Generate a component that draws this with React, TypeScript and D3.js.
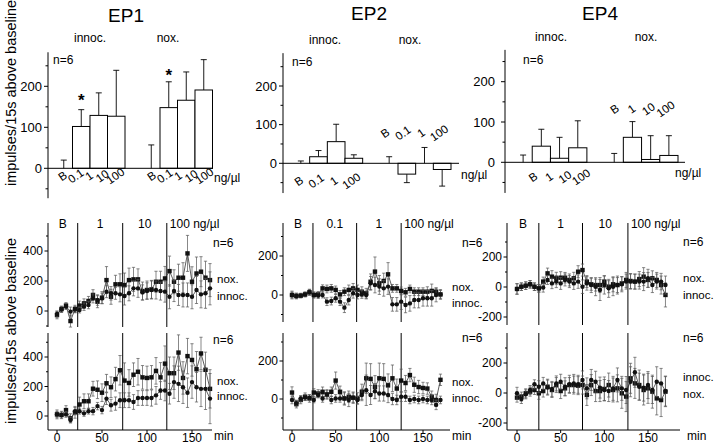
import React from "react";
import * as d3 from "d3";

const FONT = "'Liberation Sans', Arial, Helvetica, sans-serif";

// ---------------- bar chart data ----------------
const ep1InnocNames = ["B", "0.1", "1", "10", "100"];
const ep1NoxNames = ["B", "0.1", "1", "10", "100"];
const ep1InnocMean = [0, 102, 129, 127];
const ep1InnocErr = [20, 41, 55, 112];
const ep1NoxMean = [0, 148, 166, 191];
const ep1NoxErr = [57, 63, 69, 74];

const ep2InnocNames = ["B", "0.1", "1", "100"];
const ep2NoxNames = ["B", "0.1", "1", "100"];
const ep2InnocMean = [0, 17, 56, 13];
const ep2InnocErr = [6, 16, 45, 9];
const ep2NoxMean = [0, -28, 0, -16];
const ep2NoxErr = [17, 22, 41, 43];

const ep4InnocNames = ["B", "1", "10", "100"];
const ep4NoxNames = ["B", "1", "10", "100"];
const ep4InnocMean = [0, 40, 10, 36];
const ep4InnocErr = [18, 42, 52, 67];
const ep4NoxMean = [0, 62, 7, 17];
const ep4NoxErr = [22, 39, 59, 49];

const barYTicks = [0, 100, 200];
const barYMinor = [-50, 50, 150, 250];
const slotKeys = ["iB", "i1", "i2", "i3", "gap", "nB", "n1", "n2", "n3"];

// ---------------- time course data ----------------
const times = [0, 5, 10, 15, 20, 25, 30, 35, 40, 45, 50, 55, 60, 65, 70, 75, 80, 85, 90, 95, 100, 105, 110, 115, 120, 125, 130, 135, 140, 145, 150, 155, 160, 165, 170];
const xTicks = [0, 50, 100, 150];

const ep1Doses = [23, 73, 122];
const ep1DoseLabels = ["B", "1", "10", "100 ng/µl"];
const ep2Doses = [24, 74, 125];
const ep2DoseLabels = ["B", "0.1", "1", "100 ng/µl"];
const ep4Doses = [25, 75, 127];
const ep4DoseLabels = ["B", "1", "10", "100 ng/µl"];

const nox1U = [-27, 13, 36, -67, 13, 36, 51, 67, 107, 62, 89, 206, 95, 178, 178, 173, 206, 211, 211, 133, 140, 144, 195, 195, 217, 266, 195, 222, 222, 384, 195, 250, 262, 222, 206];
const innoc1U = [-20, 10, 30, -4, 10, 7, 29, 40, 84, 73, 84, 129, 118, 118, 111, 100, 118, 151, 151, 124, 133, 140, 140, 133, 129, 95, 133, 107, 107, 107, 95, 140, 111, 118, 151];
const nox1UErr = [25, 20, 20, 40, 25, 30, 30, 30, 35, 40, 40, 90, 50, 60, 70, 80, 80, 80, 70, 60, 60, 60, 70, 70, 80, 100, 80, 90, 100, 120, 100, 110, 100, 110, 110];
const innoc1UErr = [20, 20, 20, 30, 20, 20, 25, 25, 30, 35, 35, 40, 45, 40, 50, 60, 50, 50, 60, 50, 55, 60, 60, 60, 70, 80, 70, 70, 80, 80, 80, 90, 90, 100, 110];

const nox1L = [11, 7, 40, -15, 25, 78, 100, 100, 185, 178, 158, 222, 195, 250, 310, 240, 224, 280, 300, 262, 258, 262, 306, 262, 355, 290, 290, 430, 258, 406, 380, 317, 424, 313, 184];
const innoc1L = [11, 7, 11, -27, 33, 33, 18, 33, 33, 67, 40, 118, 73, 84, 107, 107, 107, 95, 122, 122, 122, 122, 140, 173, 173, 151, 230, 218, 195, 158, 230, 195, 184, 184, 118];
const nox1LErr = [30, 25, 30, 30, 40, 50, 50, 50, 50, 60, 60, 60, 70, 80, 100, 120, 90, 80, 90, 80, 80, 80, 90, 100, 120, 110, 110, 120, 110, 120, 110, 120, 110, 120, 130];
const innoc1LErr = [20, 20, 20, 20, 25, 20, 20, 20, 25, 25, 25, 40, 40, 45, 50, 50, 50, 50, 50, 50, 50, 55, 60, 60, 70, 70, 110, 120, 110, 100, 110, 100, 120, 140, 170];

const nox2U = [0, -5, -3, 3, 14, 0, 3, 34, 31, 34, 26, 3, 17, 26, 34, 26, 17, 9, 68, 120, 60, 72, 106, 34, 34, 21, 14, 31, 17, 17, 17, 17, 21, 17, 3];
const innoc2U = [0, -5, -3, 3, 14, 0, -3, 0, -34, -31, -17, -34, -65, -26, 9, 0, 3, 0, 60, 51, 43, 34, 43, -48, -48, -34, -51, -43, -26, -26, -17, -17, -17, 0, 3];
const nox2UErr = [15, 12, 10, 12, 15, 15, 15, 18, 20, 20, 20, 20, 20, 25, 25, 25, 25, 25, 40, 75, 40, 40, 60, 20, 20, 20, 20, 20, 20, 20, 20, 25, 35, 20, 20];
const innoc2UErr = [20, 15, 12, 12, 15, 15, 15, 15, 20, 20, 20, 20, 25, 25, 25, 20, 20, 20, 35, 40, 40, 40, 40, 35, 35, 40, 40, 40, 40, 40, 40, 40, 40, 35, 25];

const nox2L = [34, -27, -5, 12, 3, 34, 29, 38, 24, 38, 97, 38, 3, 12, 7, 3, 38, 109, 106, 63, 109, 106, 72, 109, 55, 97, 84, 126, 75, 63, 58, 55, 12, -5, 101];
const innoc2L = [-5, -22, 3, 7, 7, -5, 21, 3, 24, -5, 3, 3, 3, -5, 7, -5, 21, 46, 21, 41, 29, 29, 21, 0, -5, 12, 12, -5, 0, -5, 0, -5, -5, -31, -5];
const nox2LErr = [30, 20, 20, 20, 20, 20, 20, 25, 25, 25, 45, 30, 30, 30, 30, 30, 40, 80, 80, 60, 80, 80, 60, 70, 50, 60, 40, 35, 40, 35, 30, 30, 30, 30, 30];
const innoc2LErr = [20, 15, 15, 15, 15, 15, 15, 20, 20, 20, 20, 20, 35, 35, 25, 20, 30, 80, 50, 40, 40, 40, 40, 30, 25, 25, 25, 20, 20, 20, 20, 20, 25, 25, 20];

const nox4U = [-13, 2, 9, 18, 2, -9, 36, 91, 69, 58, 62, 62, 47, 58, 102, 113, 36, 18, 13, 13, 36, 2, 18, 13, 24, 47, 40, 36, 53, 69, 47, 58, 47, 13, -53];
const innoc4U = [-13, 2, 9, 18, 2, -9, -4, 47, 24, 36, 24, 47, 36, 24, 36, 2, 24, 13, 2, -20, 13, -9, 2, 13, 18, 36, 36, 36, 36, 36, 58, 13, 36, 36, 13];
const nox4UErr = [35, 25, 25, 25, 25, 25, 30, 35, 40, 40, 40, 35, 40, 40, 40, 40, 40, 40, 40, 50, 40, 40, 50, 50, 45, 50, 50, 50, 50, 60, 50, 50, 50, 60, 80];
const innoc4UErr = [35, 25, 25, 25, 25, 25, 30, 30, 35, 40, 40, 40, 40, 40, 45, 45, 45, 50, 60, 70, 60, 60, 60, 60, 50, 50, 50, 50, 50, 60, 60, 50, 50, 55, 60];

const innoc4L = [-2, -40, -9, 20, 58, 42, 64, 36, 27, 64, 75, 42, 58, 64, 58, 87, 31, 87, 75, 36, 20, 13, 31, 87, 31, 20, 75, 138, 42, 36, 53, 20, 75, 64, 13];
const nox4L = [-31, -24, -2, 9, 20, -2, 13, 42, 20, 53, 13, 31, 53, 53, 49, 53, -13, 53, 13, 13, 27, 53, 20, 31, -2, -24, 98, 64, 53, 20, 31, 9, -36, -47, 9];
const innoc4LErr = [40, 30, 30, 30, 30, 40, 40, 50, 50, 50, 50, 60, 60, 60, 60, 60, 70, 70, 70, 70, 70, 70, 80, 80, 80, 90, 100, 100, 90, 90, 90, 90, 100, 100, 100];
const nox4LErr = [30, 30, 30, 30, 30, 40, 40, 50, 50, 50, 50, 50, 50, 60, 60, 60, 70, 70, 70, 70, 80, 80, 80, 90, 100, 100, 100, 100, 100, 100, 100, 110, 110, 110, 100];

// ---------------- layout configs ----------------
const barPanels = [
  {
    title: "EP1", titleX: 126, titleY: 22, axisX: 48, y0: 168.3, y200: 86.3, vTop: 283, vBot: -73,
    slotRange: [55, 212.5], baseEnd: 213, tickGap: 6,
    innocMean: ep1InnocMean, innocErr: ep1InnocErr, noxMean: ep1NoxMean, noxErr: ep1NoxErr,
    innocNames: ep1InnocNames, noxNames: ep1NoxNames,
    innocLabelRange: [56, 122], noxLabelRange: [145, 211], innocLabelY: 176, noxLabelY: 176,
    innocTextX: 90, noxTextX: 168, groupTextY: 42, nX: 53, nY: 64, unitX: 214, unitY: 182,
    stars: [{ key: "i1", y: 106 }, { key: "n1", y: 81 }],
  },
  {
    title: "EP2", titleX: 369, titleY: 20, axisX: 283, y0: 163.3, y200: 86, vTop: 285, vBot: -77,
    slotRange: [292, 451], baseEnd: 459, tickGap: 6,
    innocMean: ep2InnocMean, innocErr: ep2InnocErr, noxMean: ep2NoxMean, noxErr: ep2NoxErr,
    innocNames: ep2InnocNames, noxNames: ep2NoxNames,
    innocLabelRange: [290, 360], noxLabelRange: [376, 448], innocLabelY: 181, noxLabelY: 133,
    innocTextX: 325, noxTextX: 410, groupTextY: 44, nX: 292, nY: 66, unitX: 461, unitY: 179,
    stars: [],
  },
  {
    title: "EP4", titleX: 600, titleY: 20, axisX: 505, y0: 162.3, y200: 81.7, vTop: 279, vBot: -76,
    slotRange: [514, 678], baseEnd: 685, tickGap: 10,
    innocMean: ep4InnocMean, innocErr: ep4InnocErr, noxMean: ep4NoxMean, noxErr: ep4NoxErr,
    innocNames: ep4InnocNames, noxNames: ep4NoxNames,
    innocLabelRange: [525, 589], noxLabelRange: [606, 674], innocLabelY: 177, noxLabelY: 109,
    innocTextX: 551, noxTextX: 646, groupTextY: 41, nX: 523, nY: 64, unitX: 675, unitY: 177,
    stars: [],
  },
];

const timePanels = [
  {
    axisX: 48, x0: 57, x150: 192, xEnd: 212, doses: ep1Doses, doseLabels: ep1DoseLabels, minX: 214, legendX: 217, nX: 213,
    upper: { dom: [0, 400], rng: [311, 251], ext: [223, 327], ticks: [0, 200, 400], minor: [-100, 100, 300, 500],
      a: nox1U, aErr: nox1UErr, b: innoc1U, bErr: innoc1UErr, labels: [["nox.", 283], ["innoc.", 300]], nY: 247 },
    lower: { dom: [0, 400], rng: [416, 357], ext: [333, 430], ticks: [0, 200, 400], minor: [-100, 100, 300, 500],
      a: nox1L, aErr: nox1LErr, b: innoc1L, bErr: innoc1LErr, labels: [["nox.", 385], ["innoc.", 400]], nY: 344 },
  },
  {
    axisX: 283, x0: 292, x150: 423, xEnd: 450, doses: ep2Doses, doseLabels: ep2DoseLabels, minX: 452, legendX: 452, nX: 462,
    upper: { dom: [0, 200], rng: [295, 256], ext: [223, 322], ticks: [0, 200], minor: [-100, 100, 300],
      a: nox2U, aErr: nox2UErr, b: innoc2U, bErr: innoc2UErr, labels: [["nox.", 291], ["innoc.", 307]], nY: 247 },
    lower: { dom: [0, 200], rng: [399, 361], ext: [333, 430], ticks: [0, 200], minor: [-100, 100, 300],
      a: nox2L, aErr: nox2LErr, b: innoc2L, bErr: innoc2LErr, labels: [["nox.", 386], ["innoc.", 402]], nY: 342 },
  },
  {
    axisX: 507, x0: 517, x150: 648, xEnd: 680, doses: ep4Doses, doseLabels: ep4DoseLabels, minX: 687, legendX: 683, nX: 683,
    upper: { dom: [0, 200], rng: [287, 257], ext: [223, 325], ticks: [-200, 0, 200], minor: [-100, 100, 300],
      a: nox4U, aErr: nox4UErr, b: innoc4U, bErr: innoc4UErr, labels: [["nox.", 282], ["innoc.", 299]], nY: 246 },
    lower: { dom: [0, 200], rng: [393, 363], ext: [333, 430], ticks: [-200, 0, 200], minor: [-100, 100, 300],
      a: nox4L, aErr: nox4LErr, b: innoc4L, bErr: innoc4LErr, labels: [["innoc.", 381], ["nox.", 398]], nY: 342 },
  },
];

function BarPanel({ cfg }: { cfg: any }) {
  const y = d3.scaleLinear().domain([0, 200]).range([cfg.y0, cfg.y200]);
  const slots = d3.scaleBand<string>().domain(slotKeys).range(cfg.slotRange).padding(0);
  const bw = slots.bandwidth();
  const groups = [
    { k: "i", mean: cfg.innocMean, err: cfg.innocErr, names: cfg.innocNames, lr: cfg.innocLabelRange, ly: cfg.innocLabelY },
    { k: "n", mean: cfg.noxMean, err: cfg.noxErr, names: cfg.noxNames, lr: cfg.noxLabelRange, ly: cfg.noxLabelY },
  ];
  const suffix = ["B", "1", "2", "3"];
  return (
    <g>
      <text x={cfg.titleX} y={cfg.titleY} fontSize={19} textAnchor="middle">{cfg.title}</text>
      <text x={cfg.innocTextX} y={cfg.groupTextY} fontSize={12} textAnchor="middle">innoc.</text>
      <text x={cfg.noxTextX} y={cfg.groupTextY} fontSize={12} textAnchor="middle">nox.</text>
      <text x={cfg.nX} y={cfg.nY} fontSize={12}>n=6</text>
      <line x1={cfg.axisX} x2={cfg.axisX} y1={y(cfg.vTop)} y2={y(cfg.vBot)} stroke="#000" strokeWidth={1} />
      {barYTicks.map((t) => (
        <g key={t}>
          <line x1={cfg.axisX - 4} x2={cfg.axisX} y1={y(t)} y2={y(t)} stroke="#000" />
          <text x={cfg.axisX - cfg.tickGap} y={y(t) + 4.5} fontSize={13} textAnchor="end">{t}</text>
        </g>
      ))}
      {barYMinor.map((t) => (
        <line key={t} x1={cfg.axisX - 2.5} x2={cfg.axisX} y1={y(t)} y2={y(t)} stroke="#000" />
      ))}
      {groups.map((g) => (
        <g key={g.k}>
          {g.mean.map((m: number, j: number) => {
            const key = g.k + suffix[j];
            const x = slots(key) as number;
            const cx = x + bw / 2;
            const dir = m < 0 ? -1 : 1;
            const yTip = y(m + dir * g.err[j]);
            return (
              <g key={key}>
                <line x1={cx} x2={cx} y1={y(m)} y2={yTip} stroke="#000" strokeWidth={0.9} />
                <line x1={cx - 3} x2={cx + 3} y1={yTip} y2={yTip} stroke="#000" strokeWidth={0.9} />
                {j > 0 && m !== 0 && (
                  <rect x={x} width={bw} y={Math.min(y(0), y(m))} height={Math.abs(y(m) - y(0))} fill="#fff" stroke="#000" strokeWidth={1} />
                )}
              </g>
            );
          })}
          {(() => {
            const ls = d3.scaleBand<string>().domain(g.names.map((n: string, i: number) => i + n)).range(g.lr);
            return g.names.map((n: string, i: number) => {
              const cx = (ls(i + n) as number) + ls.bandwidth() / 2;
              return (
                <text key={i} x={cx} y={g.ly} fontSize={11.5} textAnchor="middle" dominantBaseline="central"
                  transform={`rotate(-35 ${cx} ${g.ly})`}>{n}</text>
              );
            });
          })()}
        </g>
      ))}
      <line x1={cfg.axisX} x2={cfg.baseEnd} y1={y(0)} y2={y(0)} stroke="#000" strokeWidth={1} />
      <text x={cfg.unitX} y={cfg.unitY} fontSize={12}>ng/µl</text>
      {cfg.stars.map((s: any) => (
        <text key={s.key} x={(slots(s.key) as number) + bw / 2} y={s.y} fontSize={17} fontWeight="bold" textAnchor="middle">*</text>
      ))}
    </g>
  );
}

function SubPlot({ p, sub, x, showX }: { p: any; sub: any; x: any; showX: boolean }) {
  const y = d3.scaleLinear().domain(sub.dom).range(sub.rng);
  const line = d3.line<number>().x((_, i) => x(times[i])).y((d) => y(d));
  const series = [
    { v: sub.a, e: sub.aErr, shape: "sq" },
    { v: sub.b, e: sub.bErr, shape: "ci" },
  ];
  const [top, bot] = sub.ext;
  return (
    <g>
      <line x1={p.axisX} x2={p.axisX} y1={top} y2={bot} stroke="#000" strokeWidth={1} />
      {sub.ticks.map((t: number) => (
        <g key={t}>
          <line x1={p.axisX - 3.5} x2={p.axisX} y1={y(t)} y2={y(t)} stroke="#000" />
          <text x={p.axisX - 5} y={y(t) + 4} fontSize={12} textAnchor="end">{t}</text>
        </g>
      ))}
      {sub.minor.filter((t: number) => y(t) > top && y(t) < bot).map((t: number) => (
        <line key={t} x1={p.axisX - 2} x2={p.axisX} y1={y(t)} y2={y(t)} stroke="#000" />
      ))}
      {p.doses.map((d: number) => (
        <line key={d} x1={x(d)} x2={x(d)} y1={top} y2={bot} stroke="#000" strokeWidth={1} />
      ))}
      {series.map((s, si) => (
        <g key={si}>
          {s.v.map((v: number, i: number) => {
            const cx = x(times[i]);
            const y1 = y(v + s.e[i]);
            const y2 = y(v - s.e[i]);
            return (
              <g key={i} stroke="#555" strokeWidth={0.7}>
                <line x1={cx} x2={cx} y1={y1} y2={y2} />
                <line x1={cx - 1.6} x2={cx + 1.6} y1={y1} y2={y1} />
                <line x1={cx - 1.6} x2={cx + 1.6} y1={y2} y2={y2} />
              </g>
            );
          })}
          <path d={line(s.v) as string} fill="none" stroke="#333" strokeWidth={0.8} />
          {s.v.map((v: number, i: number) =>
            s.shape === "sq" ? (
              <rect key={i} x={x(times[i]) - 2.2} y={y(v) - 2.2} width={4.4} height={4.4} fill="#111" />
            ) : (
              <circle key={i} cx={x(times[i])} cy={y(v)} r={2.2} fill="#111" />
            )
          )}
        </g>
      ))}
      <text x={p.nX} y={sub.nY} fontSize={12}>n=6</text>
      {sub.labels.map((l: any) => (
        <text key={l[0]} x={p.legendX} y={l[1]} fontSize={11.5}>{l[0]}</text>
      ))}
      {showX && (
        <g>
          <line x1={p.axisX} x2={p.xEnd} y1={bot} y2={bot} stroke="#000" strokeWidth={1} />
          {xTicks.map((t) => (
            <g key={t}>
              <line x1={x(t)} x2={x(t)} y1={bot} y2={bot + 3} stroke="#000" />
              <text x={x(t)} y={442} fontSize={12} textAnchor="middle">{t}</text>
            </g>
          ))}
          <text x={p.minX} y={440} fontSize={12}>min</text>
        </g>
      )}
    </g>
  );
}

function TimePanel({ p }: { p: any }) {
  const x = d3.scaleLinear().domain([0, 150]).range([p.x0, p.x150]);
  const bounds = [p.axisX, ...p.doses.map((d: number) => x(d))];
  return (
    <g>
      {p.doseLabels.map((l: string, i: number) => {
        const last = i === p.doseLabels.length - 1;
        const xx = last ? bounds[i] + 3 : (bounds[i] + bounds[i + 1]) / 2;
        return (
          <text key={i} x={xx} y={228} fontSize={12} textAnchor={last ? "start" : "middle"}>{l}</text>
        );
      })}
      <SubPlot p={p} sub={p.upper} x={x} showX={false} />
      <SubPlot p={p} sub={p.lower} x={x} showX={true} />
    </g>
  );
}

export default function App() {
  return (
    <svg width={720} height={444} viewBox="0 0 720 444"
      style={{ position: "absolute", left: 0, top: 0, background: "#fff" }} fontFamily={FONT}>
      <rect x={0} y={0} width={720} height={444} fill="#fff" />
      <text transform="translate(11,93) rotate(-90)" fontSize={14.5} textAnchor="middle" dominantBaseline="central">impulses/15s above baseline</text>
      <text transform="translate(11,331) rotate(-90)" fontSize={14.5} textAnchor="middle" dominantBaseline="central">impulses/15s above baseline</text>
      {barPanels.map((c) => (
        <BarPanel key={c.title} cfg={c} />
      ))}
      {timePanels.map((p, i) => (
        <TimePanel key={i} p={p} />
      ))}
    </svg>
  );
}
